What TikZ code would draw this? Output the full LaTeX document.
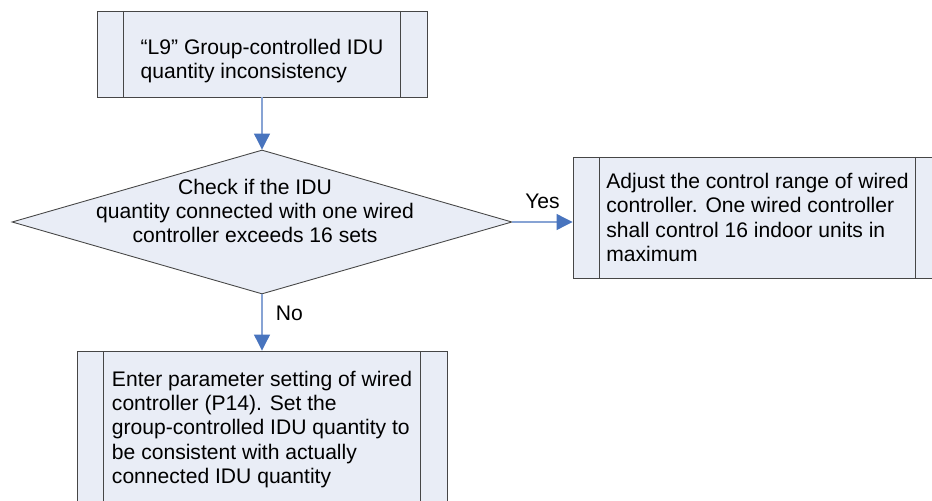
\documentclass[tikz,border=0pt]{standalone}
\usepackage{fontspec}
\setmainfont{Liberation Sans}
\usetikzlibrary{shapes.geometric, arrows.meta}

\definecolor{boxfill}{RGB}{233,237,246}
\definecolor{boxline}{RGB}{70,70,70}
\definecolor{flowline}{RGB}{135,163,212}
\definecolor{flowhead}{RGB}{72,116,190}

\begin{document}
\begin{tikzpicture}[
    font=\fontsize{12}{13.7}\selectfont,
    procbox/.style={rectangle, draw=boxline, fill=boxfill, line width=0.5pt, align=left,
        path picture={
            \draw[boxline, line width=0.5pt] ([xshift=0.53cm]path picture bounding box.north west) -- ([xshift=0.53cm]path picture bounding box.south west);
            \draw[boxline, line width=0.5pt] ([xshift=-0.53cm]path picture bounding box.north east) -- ([xshift=-0.53cm]path picture bounding box.south east);
        }},
    decbox/.style={diamond, draw=boxline, fill=boxfill, line width=0.5pt, inner sep=0pt},
    flow/.style={draw=flowline, line width=0.6pt, -{Triangle[length=0.32cm, width=0.32cm, color=flowhead]}}
]
    \useasboundingbox[fill=white] (0,0) rectangle (18.64,-10.02);

    % Error code box
    \node[procbox, minimum width=6.6cm, minimum height=1.72cm] (start) at (5.24,-1.08) {};
    \node[align=left] (starttext) at (5.24,-1.22) {“L9” Group-controlled IDU\\quantity inconsistency};

    % Decision diamond
    \node[decbox, minimum width=10cm, minimum height=2.88cm] (check) at (5.24,-4.44) {};
    \node[align=center] (checktext) at (5.1,-4.215) {Check if the IDU\\quantity connected with one wired\\controller exceeds 16 sets};

    % Yes branch (right)
    \node[procbox, minimum width=7.38cm, minimum height=2.42cm] (adjust) at (15.15,-4.35) {Adjust the control range of wired\\controller. One wired controller\\shall control 16 indoor units in\\maximum};

    % No branch (down)
    \node[procbox, minimum width=7.4cm, minimum height=3.14cm] (setp) at (5.24,-8.59) {Enter parameter setting of wired\\controller (P14). Set the\\group-controlled IDU quantity to\\be consistent with actually\\connected IDU quantity};

    % Connections
    \draw[flow] (start) -- (check);
    \draw[flow] (check.east) -- node[above=0.13cm, black] {Yes} (check.east -| adjust.west);
    \draw[flow] (check.south) -- node[right=0.15cm, pos=0.33, black] {No} (setp.north);

\end{tikzpicture}
\end{document}
